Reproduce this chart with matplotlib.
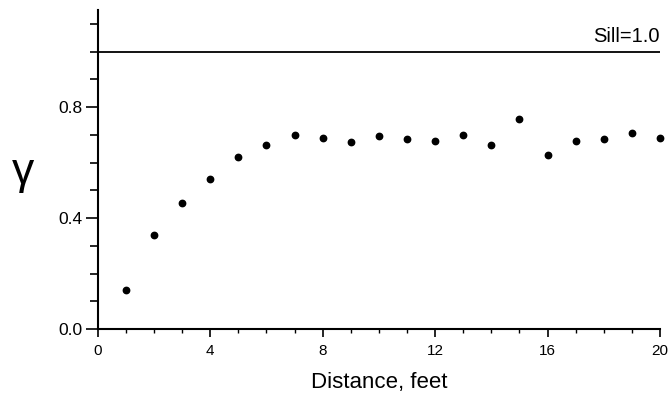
import matplotlib
matplotlib.use("Agg")
import matplotlib.pyplot as plt
from matplotlib.ticker import MultipleLocator, FixedLocator

# Data
distance = [1, 2, 3, 4, 5, 6, 7, 8, 9, 10, 11, 12, 13, 14, 15, 16, 17, 18, 19, 20]
gamma = [0.14, 0.34, 0.455, 0.54, 0.62, 0.663, 0.699, 0.687, 0.674, 0.697,
         0.684, 0.677, 0.698, 0.665, 0.758, 0.626, 0.677, 0.686, 0.706, 0.688]
sill = 1.0
sill_label = "Sill=1.0"
x_ticks = [0, 4, 8, 12, 16, 20]
y_ticks = [0.0, 0.4, 0.8]
y_tick_labels = ["0.0", "0.4", "0.8"]

plt.rcParams['font.family'] = ['Liberation Sans', 'DejaVu Sans']

fig = plt.figure(figsize=(6.7, 3.96), dpi=100)
ax = fig.add_axes([0.146, 0.169, 0.839, 0.806])

ax.plot(distance, gamma, 'o', color='black', markersize=4.6, clip_on=False)
ax.plot([0, 20], [sill, sill], color='black', linewidth=1.3)
ax.text(20, sill + 0.02, sill_label, ha='right', va='bottom', fontsize=14.5)

ax.set_xlim(0, 20)
ax.set_ylim(0, 1.15)

for s in ['top', 'right']:
    ax.spines[s].set_visible(False)
for s in ['left', 'bottom']:
    ax.spines[s].set_linewidth(1.5)

ax.xaxis.set_major_locator(FixedLocator(x_ticks))
ax.xaxis.set_minor_locator(MultipleLocator(1))
ax.yaxis.set_major_locator(FixedLocator(y_ticks))
ax.set_yticklabels(y_tick_labels)
ax.yaxis.set_minor_locator(MultipleLocator(0.1))

ax.tick_params(axis='x', which='major', direction='out', length=6, width=1.2, labelsize=11, pad=5)
ax.tick_params(axis='x', which='minor', direction='out', length=3, width=1.0)
ax.tick_params(axis='y', which='major', direction='out', length=9, width=1.2, labelsize=12.5, pad=2)
ax.tick_params(axis='y', which='minor', direction='out', length=5.5, width=1.2)

ax.set_xlabel("Distance, feet", fontsize=16, labelpad=10)
fig.text(0.035, 0.565, "γ", fontsize=32, family=['Liberation Sans'], ha='center', va='center')

fig.savefig("out.png", dpi=100)
